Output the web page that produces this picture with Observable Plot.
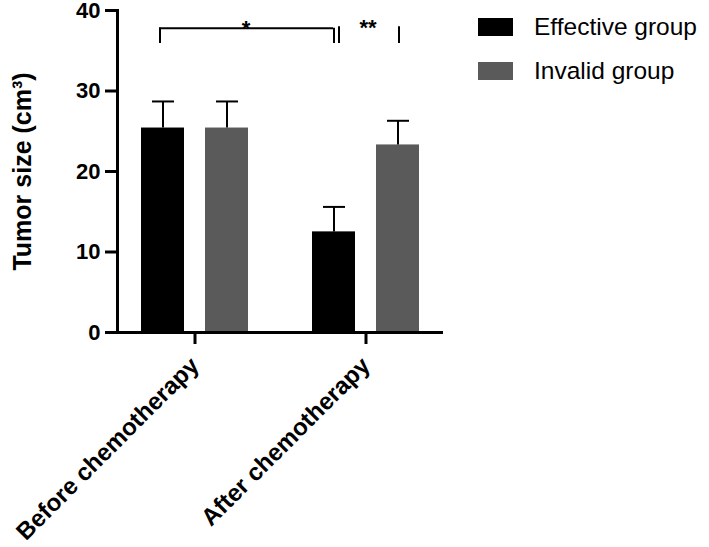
<!DOCTYPE html>
<html>
<head>
<meta charset="utf-8">
<script src="https://cdn.jsdelivr.net/npm/d3@7"></script>
<script src="https://cdn.jsdelivr.net/npm/@observablehq/plot@0.6"></script>
<style>
  html, body { margin: 0; padding: 0; background: #fff; }
  #wrap { position: relative; width: 709px; height: 547px; font-family: 'Liberation Sans', Arial, sans-serif; }
  #legend { position: absolute; left: 478px; top: 18px; }
  .row { display: flex; align-items: center; height: 18px; margin-bottom: 25.5px; font-size: 24.5px; color: #000; white-space: nowrap; }
  .sw { width: 35px; height: 18px; margin-right: 21px; flex: none; }
</style>
</head>
<body>
<div id="wrap"><div id="legend"></div></div>
<script>
// ---- data ----
const categories = ["Before chemotherapy", "After chemotherapy"];
const groups = ["Effective group", "Invalid group"];
const effectiveMean = [25.4, 12.5];
const effectiveSD = [3.3, 3.1];
const invalidMean = [25.4, 23.3];
const invalidSD = [3.3, 3.0];
const yTicks = [0, 10, 20, 30, 40];
const groupColors = ["#000000", "#5a5a5a"];
const yLabel = "Tumor size (cm³)";
const brackets = [
  { from: "Before chemotherapy", to: "After chemotherapy", y: 37.8, drop: 35.9, label: "*" },
  { from: "After chemotherapy", to: "After chemotherapy", y: 37.97, drop: 35.9, label: "**" }
];

const rows = categories.flatMap((c, i) => [
  { category: c, group: groups[0], value: effectiveMean[i], err: effectiveSD[i] },
  { category: c, group: groups[1], value: invalidMean[i], err: invalidSD[i] }
]);
const eff = rows.filter(d => d.group === groups[0]);
const inv = rows.filter(d => d.group === groups[1]);
const hi = d => d.value + d.err;

const font = "'Liberation Sans', Arial, sans-serif";

const chart = Plot.plot({
  width: 709,
  height: 547,
  marginLeft: 117,
  marginTop: 10,
  marginRight: 266,
  marginBottom: 215,
  style: { fontFamily: font, color: "#000", background: "transparent", overflow: "visible" },
  x: { domain: categories, paddingInner: 0.374, paddingOuter: 0.14 },
  y: { domain: [0, 40] },
  color: { domain: groups, range: groupColors },
  marks: [
    Plot.barY(eff, { x: "category", y: "value", fill: "group", insetRight: 64 }),
    Plot.barY(inv, { x: "category", y: "value", fill: "group", insetLeft: 64 }),
    // error bars (upper only)
    Plot.ruleX(eff, { x: "category", y1: "value", y2: hi, dx: -32, strokeWidth: 2 }),
    Plot.ruleX(inv, { x: "category", y1: "value", y2: hi, dx: 32, strokeWidth: 2 }),
    Plot.tickY(eff, { x: "category", y: hi, insetLeft: 11, insetRight: 74, strokeWidth: 2 }),
    Plot.tickY(inv, { x: "category", y: hi, insetLeft: 75, insetRight: 10, strokeWidth: 2 }),
    // significance brackets
    Plot.ruleY([brackets[0]], { x1: "from", x2: "to", y: "y", insetLeft: 18, insetRight: 86, strokeWidth: 2 }),
    Plot.ruleX([brackets[0]], { x: "from", y1: "drop", y2: "y", dx: -35, strokeWidth: 2 }),
    Plot.ruleX([brackets[0]], { x: "to", y1: "drop", y2: "y", dx: -32, strokeWidth: 2 }),
    Plot.text([brackets[0]], { x: "from", y: "y", text: "label", dx: 51, dy: 1, fontSize: 22, fontWeight: "bold" }),
    Plot.ruleY([brackets[1]], { x: "from", y: "y", insetLeft: 26, insetRight: 21, strokeWidth: 2 }),
    Plot.ruleX([brackets[1]], { x: "from", y1: "drop", y2: "y", dx: -27, strokeWidth: 2 }),
    Plot.ruleX([brackets[1]], { x: "to", y1: "drop", y2: "y", dx: 33, strokeWidth: 2 }),
    Plot.text([brackets[1]], { x: "from", y: "y", text: "label", dx: 2, dy: 1, fontSize: 22, fontWeight: "bold", letterSpacing: 2 }),
    // axes
    Plot.ruleY([0], { strokeWidth: 3 }),
    Plot.frame({ anchor: "left", strokeWidth: 3 }),
    Plot.axisY({ ticks: yTicks, tickSize: 12, tickPadding: 5, strokeWidth: 3, fontSize: 22, fontWeight: "bold", label: null }),
    Plot.axisX({ tickRotate: -45, tickSize: 12, tickPadding: 17, strokeWidth: 3, fontSize: 24, fontWeight: "bold", label: null }),
    Plot.text([yLabel], { frameAnchor: "left", text: d => d, rotate: -90, dx: -104, lineAnchor: "top", textAnchor: "middle", fontSize: 25, fontWeight: "bold" })
  ]
});

const wrap = document.getElementById("wrap");
wrap.insertBefore(chart, wrap.firstChild);

const legend = document.getElementById("legend");
groups.forEach((g, i) => {
  const row = document.createElement("div");
  row.className = "row";
  const sw = document.createElement("div");
  sw.className = "sw";
  sw.style.background = groupColors[i];
  const t = document.createElement("span");
  t.textContent = g;
  row.appendChild(sw);
  row.appendChild(t);
  legend.appendChild(row);
});
</script>
</body>
</html>
